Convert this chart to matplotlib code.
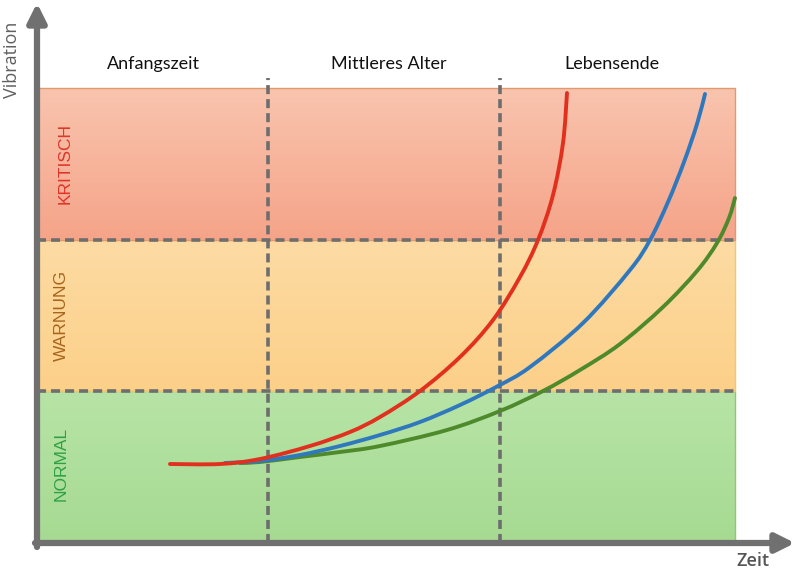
import numpy as np
import matplotlib
matplotlib.use('Agg')
import matplotlib.pyplot as plt
from matplotlib.patches import Rectangle, PathPatch
from matplotlib.path import Path

plt.rcParams['lines.scale_dashes'] = False

# coordinates: t = time from the y axis, v = vibration above the x axis
phase_names = ['Anfangszeit', 'Mittleres Alter', 'Lebensende']
phase_bounds = [231, 463]
zone_names = ['NORMAL', 'WARNUNG', 'KRITISCH']
zone_limits = [0, 152, 303, 455]
t_end = 698

red_t = [133, 183, 223, 273, 313, 343, 383, 423, 456, 483, 501, 516, 526, 530]
red_v = [79, 79, 84, 97, 111, 126, 152, 186, 223, 266, 303, 348, 400, 450]

blue_t = [188, 223, 263, 303, 343, 383, 423, 461, 493, 546, 593, 613, 631, 647, 660, 668]
blue_v = [80, 82, 88, 97, 108, 121, 138, 157, 176, 220, 273, 303, 341, 381, 419, 449]

green_t = [203, 223, 263, 303, 343, 410, 463, 506, 543, 583, 626, 660, 680, 692, 698]
green_v = [80, 81, 86, 91, 97, 113, 132, 152, 173, 199, 236, 272, 300, 325, 345]

zone_cols = [('#b7e4a6', '#a6da92'), ('#fddba3', '#fcd089'), ('#f9c4ae', '#f5a489')]
zone_edges = ['#8fc67a', '#f0c870', '#e09a70']
zone_text = ['#2ea043', '#a8641c', '#e0342a']


def smooth_path(xs, ys):
    # draw the curve through the read points as cubic Bezier pieces
    p = np.column_stack([xs, ys]).astype(float)
    verts = [p[0]]
    codes = [Path.MOVETO]
    for i in range(len(p) - 1):
        p0 = p[i - 1] if i > 0 else p[i]
        p3 = p[i + 2] if i + 2 < len(p) else p[i + 1]
        c1 = p[i] + (p[i + 1] - p0) / 6
        c2 = p[i + 1] - (p3 - p[i]) / 6
        verts += [c1, c2, p[i + 1]]
        codes += [Path.CURVE4] * 3
    return Path(verts, codes)


fig = plt.figure(figsize=(8, 5.73), dpi=100)
ax = fig.add_axes([0, 0, 1, 1])

for i in range(3):
    lo, hi = zone_limits[i], zone_limits[i + 1]
    c1 = np.array(matplotlib.colors.to_rgb(zone_cols[i][0]))
    c2 = np.array(matplotlib.colors.to_rgb(zone_cols[i][1]))
    g = np.linspace(0, 1, 64)[:, None]
    img = (c1[None, :] * (1 - g) + c2[None, :] * g)[:, None, :]
    ax.imshow(img, extent=(0, t_end, lo, hi), origin='upper', aspect='auto', zorder=1)
    ax.add_patch(Rectangle((0, lo), t_end, hi - lo, fill=False, ec=zone_edges[i], lw=1, zorder=2))
    ax.text(28 if i == 2 else 24, (lo + hi) / 2 + (3 if i == 0 else 0), zone_names[i], rotation=90,
            ha='center', va='center', color=zone_text[i], fontsize=12.5, family='Liberation Sans', zorder=5)

ax.set_xlim(-37, 763)
ax.set_ylim(-30, 543)
ax.axis('off')

dash = (6.5, 3.6)
for v in zone_limits[1:3]:
    ax.plot([0, t_end], [v, v], color='#6e6e6e', lw=2.6, dashes=dash, zorder=3)
for t in phase_bounds:
    ax.plot([t, t], [0, 465], color='#6e6e6e', lw=2.6, dashes=dash, zorder=3)

for xs, ys, col in [(green_t, green_v, '#4e8a2c'), (blue_t, blue_v, '#2f78be'), (red_t, red_v, '#e2301f')]:
    ax.add_patch(PathPatch(smooth_path(xs, ys), fill=False, ec=col, lw=2.8, capstyle='round', zorder=4))

# axes arrows
arr = dict(arrowstyle='-|>', lw=4.5, color='#707070', mutation_scale=28, shrinkA=0, shrinkB=0)
ax.annotate('', xy=(0, 540), xytext=(0, -4), arrowprops=arr, zorder=6)
ax.annotate('', xy=(758, 0), xytext=(-2, 0), arrowprops=arr, zorder=6)

centers = [116, 352, 575]
for c, name in zip(centers, phase_names):
    ax.text(c, 471, name, ha='center', va='bottom', fontsize=13, family='Lato', color='#111111')

ax.text(-25, 483, 'Vibration', rotation=90, ha='center', va='center', fontsize=13,
        family='Open Sans', color='#606060')
ax.text(716, -18, 'Zeit', ha='center', va='center', fontsize=13, family='Open Sans',
        color='#555555', fontweight='semibold')

fig.savefig('out.png', dpi=100)
